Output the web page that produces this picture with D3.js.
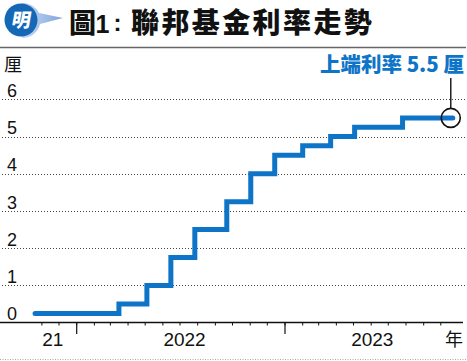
<!DOCTYPE html>
<html><head><meta charset="utf-8">
<script src="https://cdn.jsdelivr.net/npm/d3@7"></script>
<style>
html,body{margin:0;padding:0;background:#fff;}
svg{display:block;}
</style></head>
<body>
<svg id="chart" width="467" height="361"></svg>
<script>
// ---- data ----
const titleA = "圖", titleNum = "1", titleColon = ":", titleB = "聯邦基金利率走勢";
const dates = ["2021-10-20","2022-03-16","2022-05-04","2022-06-15","2022-07-27","2022-09-21","2022-11-02","2022-12-14","2023-02-01","2023-03-22","2023-05-03","2023-07-26","2023-10-22"];
const rates = [0.25,0.5,1.0,1.75,2.5,3.25,4.0,4.5,4.75,5.0,5.25,5.5,5.5];
const yTicks = [0,1,2,3,4,5,6];
const yUnit = "厘";
const xLabels = ["21","2022","2023"];
const xLabelDates = ["2021-11-20","2022-07-09","2023-06-03"];
const xUnit = "年";
const majorTickDates = ["2022-01-01","2023-01-01"];
const minorTickStart = "2021-11-01", minorTickEnd = "2023-10-01";
const annotation = "上端利率 5.5 厘";

const parse = d3.timeParse("%Y-%m-%d");
const data = dates.map((d,i)=>({date:parse(d), v:rates[i]}));

const svg = d3.select("#chart");
const blue = "#0e74c7";

// ---- header ----
const hdr = svg.append("g");
const grad = svg.append("defs").append("linearGradient").attr("id","lg").attr("x1","0").attr("x2","1");
grad.append("stop").attr("offset","0").attr("stop-color","#c9daf2");
grad.append("stop").attr("offset","1").attr("stop-color","#7fa6dd");
hdr.append("path")
  .attr("d","M22,3 A18,18 0 0 1 39,13 L63,18 L40,24 A18,18 0 0 1 22,38 Z")
  .attr("fill","url(#lg)");
hdr.append("circle").attr("cx",21).attr("cy",20).attr("r",16.5).attr("fill","#1468b5");
hdr.append("text").attr("x",21).attr("y",27.5).attr("text-anchor","middle")
  .attr("font-family","'Noto Sans CJK TC'").attr("font-weight",900).attr("font-size",19)
  .attr("fill","#fff").attr("transform","skewX(-10) translate(4,0)").text("明");
const tf = "'Noto Sans CJK TC'";
hdr.append("text").attr("x",69).attr("y",33)
  .attr("font-family",tf).attr("font-weight",900).attr("font-size",27)
  .attr("fill","#111").text(titleA);
hdr.append("text").attr("x",95.5).attr("y",32.5)
  .attr("font-family","'Liberation Sans',Arial,sans-serif").attr("font-weight",700).attr("font-size",25)
  .attr("fill","#111").text(titleNum);
hdr.append("text").attr("x",117.5).attr("y",31)
  .attr("text-anchor","middle")
  .attr("font-family","'Liberation Sans',Arial,sans-serif").attr("font-weight",700).attr("font-size",24)
  .attr("fill","#111").text(titleColon);
hdr.append("text").attr("x",131).attr("y",33)
  .attr("font-family",tf).attr("font-weight",900).attr("font-size",28)
  .attr("letter-spacing",2.4)
  .attr("fill","#111").text(titleB);
hdr.append("line").attr("x1",0).attr("x2",466).attr("y1",47.5).attr("y2",47.5)
  .attr("stroke","#666").attr("stroke-width",1.5);

// ---- scales ----
const x = d3.scaleTime()
  .domain([parse("2022-01-01"), parse("2023-01-01")])
  .range([76.7, 285]);
const y = d3.scaleLinear().domain([0,6]).range([322.7, 99.3]);

// ---- grid ----
const grid = svg.append("g");
grid.selectAll("line").data(yTicks.filter(d=>d>0)).join("line")
  .attr("x1",2).attr("x2",466)
  .attr("y1",d=>Math.round(y(d))+0.5).attr("y2",d=>Math.round(y(d))+0.5)
  .attr("stroke","#444").attr("stroke-width",1).attr("stroke-dasharray","1,2");

// y labels
svg.append("g").selectAll("text").data(yTicks).join("text")
  .attr("x",7).attr("y",d=>y(d)-2.5)
  .attr("font-family","'Liberation Sans',Arial,sans-serif").attr("font-size",18)
  .attr("fill","#111").text(d=>d);
svg.append("text").attr("x",4).attr("y",71)
  .attr("font-family","'Noto Sans CJK TC'").attr("font-size",18)
  .attr("fill","#111").text(yUnit);

// ---- x axis ----
const ax = svg.append("g");
ax.append("line").attr("x1",0).attr("x2",463).attr("y1",322.5).attr("y2",322.5)
  .attr("stroke","#111").attr("stroke-width",1.3);
const months = d3.timeMonth.range(parse(minorTickStart), d3.timeDay.offset(parse(minorTickEnd),1));
ax.selectAll("line.minor").data(months).join("line").attr("class","minor")
  .attr("x1",d=>x(d)).attr("x2",d=>x(d)).attr("y1",322.5).attr("y2",325.5)
  .attr("stroke","#111").attr("stroke-width",1);
ax.selectAll("line.major").data(majorTickDates.map(parse)).join("line").attr("class","major")
  .attr("x1",d=>x(d)).attr("x2",d=>x(d)).attr("y1",322.5).attr("y2",334)
  .attr("stroke","#111").attr("stroke-width",1.2);
ax.selectAll("text.xl").data(xLabels).join("text").attr("class","xl")
  .attr("x",(d,i)=>x(parse(xLabelDates[i]))).attr("y",346)
  .attr("text-anchor","middle")
  .attr("font-family","'Liberation Sans',Arial,sans-serif").attr("font-size",19)
  .attr("fill","#111").text(d=>d);
ax.append("text").attr("x",454).attr("y",346).attr("text-anchor","middle")
  .attr("font-family","'Noto Sans CJK TC'").attr("font-size",18)
  .attr("fill","#111").text(xUnit);

// bottom dotted rule
svg.append("line").attr("x1",0).attr("x2",467).attr("y1",359.5).attr("y2",359.5)
  .attr("stroke","#aaa").attr("stroke-dasharray","1,1.5");

// ---- line ----
const line = d3.line().x(d=>x(d.date)).y(d=>y(d.v)).curve(d3.curveStepAfter);
svg.append("path").datum(data).attr("d",line)
  .attr("fill","none").attr("stroke",blue).attr("stroke-width",5)
  .attr("stroke-linecap","round").attr("stroke-linejoin","miter");

// ---- annotation ----
const last = data[data.length-1];
const cx = x(last.date)-2, cy = y(last.v);
svg.append("circle").attr("cx",cx).attr("cy",cy).attr("r",9.5)
  .attr("fill","none").attr("stroke","#111").attr("stroke-width",1.6);
svg.append("line").attr("x1",cx).attr("x2",cx).attr("y1",cy-9.5).attr("y2",78)
  .attr("stroke","#111").attr("stroke-width",1.4);
svg.append("text").attr("x",464).attr("y",72).attr("text-anchor","end")
  .attr("font-family","'Noto Sans CJK TC'").attr("font-weight",900).attr("font-size",20.5)
  .attr("fill",blue).text(annotation);
</script>
</body></html>
